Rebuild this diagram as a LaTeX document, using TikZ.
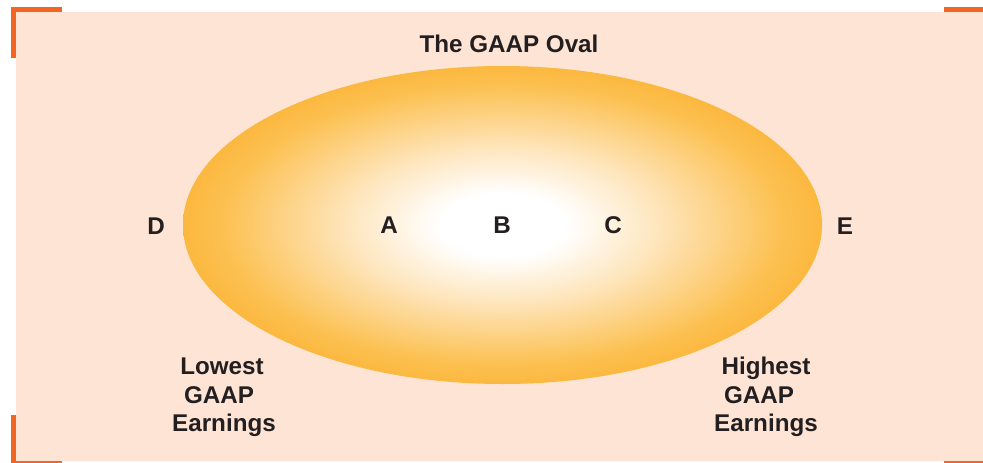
\documentclass[tikz,border=0pt]{standalone}
\usepackage{fontspec}
\setmainfont{Liberation Sans}
\definecolor{peach}{HTML}{FDE4D4}
\definecolor{bracket}{HTML}{F26522}
\definecolor{gaapedge}{HTML}{FAA618}
\definecolor{gaapmid}{HTML}{FCC050}
\definecolor{gaaplight}{HTML}{FEE6BE}
\definecolor{ink}{HTML}{231F20}
\pgfdeclareradialshading{gaap}{\pgfpoint{0bp}{0bp}}{color(0bp)=(white); color(5bp)=(white); color(12bp)=(gaaplight); color(22bp)=(gaapmid); color(32bp)=(gaapedge); color(51bp)=(gaapedge)}
\tikzset{
  lbl/.style={anchor=base, inner sep=0pt, text=ink, font=\fontsize{24.2}{29}\selectfont\bfseries},
}
\begin{document}
\begin{tikzpicture}[x=1pt,y=-1pt]
\useasboundingbox (0,0) rectangle (983,463);
\fill[peach] (16,12) rectangle (983,461);
\fill[bracket] (11,7) rectangle (62,12);
\fill[bracket] (11,7) rectangle (16,58);
\fill[bracket] (944,7) rectangle (983,12);
\fill[bracket] (11,415) rectangle (16,463);
\fill[bracket] (11,461) rectangle (62,463);
\fill[bracket] (944,461) rectangle (983,463);
\shade[shading=gaap] (502.5,225) ellipse [x radius=319.5, y radius=159];
\node[lbl] (title) at (509,52) {The GAAP Oval};
\node[lbl] (d) at (156,234) {D};
\node[lbl] (a) at (389,233) {A};
\node[lbl] (b) at (502,233) {B};
\node[lbl] (c) at (613,233) {C};
\node[lbl] (e) at (845,234) {E};
\node[lbl] (low1) at (222,374) {Lowest};
\node[lbl] (low2) at (219,403) {GAAP};
\node[lbl] (low3) at (224,431) {Earnings};
\node[lbl] (high1) at (766,374) {Highest};
\node[lbl] (high2) at (759,403) {GAAP};
\node[lbl] (high3) at (766,431) {Earnings};
\end{tikzpicture}
\end{document}
